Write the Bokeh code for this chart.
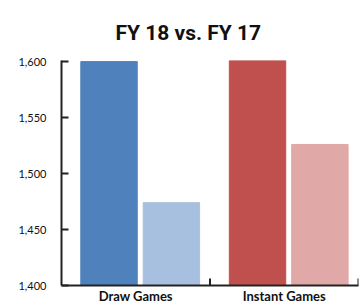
from bokeh.plotting import figure
from bokeh.models import ColumnDataSource, FactorRange, Range1d, NumeralTickFormatter, FixedTicker
from bokeh.transform import dodge
from bokeh.embed import file_html
from bokeh.resources import INLINE

categories = ["Draw Games", "Instant Games"]
fy18 = [1600, 1601]
fy17 = [1474, 1526]
fy18_colors = ["#4f81bd", "#c0504d"]
fy17_colors = ["#a8c0df", "#e0a8a7"]
y_ticks = [1400, 1450, 1500, 1550, 1600]

LABEL_FONT = "Lato"

p = figure(width=360, height=306, x_range=FactorRange(*categories, range_padding=0),
           y_range=Range1d(1400, 1601), output_backend="svg", toolbar_location=None,
           min_border_left=61, min_border_right=2, min_border_top=60, min_border_bottom=18,
           title="FY 18 vs. FY 17")
p.outline_line_color = None
p.grid.grid_line_color = None

p.title.text_font = "Roboto"
p.title.text_font_style = "bold"
p.title.text_font_size = "21px"
p.title.align = "left"
p.title.offset = 54
p.title.standoff = 32
p.title.text_color = "#111111"

s18 = ColumnDataSource(dict(cat=categories, top=fy18, color=fy18_colors))
s17 = ColumnDataSource(dict(cat=categories, top=fy17, color=fy17_colors))
p.vbar(x=dodge("cat", -0.18, range=p.x_range), top="top", bottom=1400, width=0.38,
       color="color", source=s18)
p.vbar(x=dodge("cat", 0.24, range=p.x_range), top="top", bottom=1400, width=0.38,
       color="color", source=s17)

# category boundary ticks
tick_src = ColumnDataSource(dict(cat=categories, y=[1400, 1400]))
p.scatter(x=dodge("cat", 0.5, range=p.x_range), y="y", marker="dash", angle=1.5708,
          size=14, line_width=2, line_color="#222222", source=tick_src)

yax = p.yaxis[0]
yax.ticker = FixedTicker(ticks=y_ticks)
yax.formatter = NumeralTickFormatter(format="0,0")
yax.major_tick_in = 7
yax.major_tick_out = 0
yax.minor_tick_line_color = None
yax.axis_line_width = 2
yax.axis_line_color = "#222222"
yax.major_tick_line_width = 2
yax.major_tick_line_color = "#222222"
yax.major_label_text_font = LABEL_FONT
yax.major_label_text_font_size = "11px"
yax.major_label_text_color = "#111111"
yax.major_label_standoff = 15

xax = p.xaxis[0]
xax.major_tick_in = 0
xax.major_tick_out = 0
xax.axis_line_width = 2
xax.axis_line_color = "#222222"
xax.major_label_text_font = LABEL_FONT
xax.major_label_text_font_size = "13px"
xax.major_label_text_font_style = "bold"
xax.major_label_text_color = "#111111"
xax.major_label_standoff = 2

open("out.html", "w").write(file_html(p, INLINE))
